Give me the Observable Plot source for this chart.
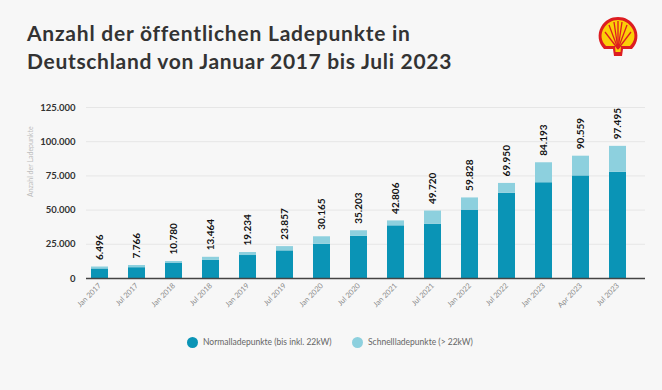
<!DOCTYPE html>
<html><head><meta charset="utf-8">
<script src="https://cdn.jsdelivr.net/npm/d3@7"></script>
<script src="https://cdn.jsdelivr.net/npm/@observablehq/plot@0.6"></script>
<style>
body{margin:0;background:#f7f7f7;}
#wrap{position:relative;width:662px;height:390px;background:#f7f7f7;font-family:Lato,"Open Sans",sans-serif;overflow:hidden;}
#title{position:absolute;left:27px;top:19px;font-size:21px;line-height:28px;font-weight:700;color:#333;white-space:nowrap;}
#title span{display:inline-block;}
#logo{position:absolute;left:597px;top:16px;}
#chart{position:absolute;left:0;top:90px;}
#legend{position:absolute;top:336px;left:0;width:662px;font-size:8.5px;color:#666;}
.sw{position:absolute;width:11px;height:11px;border-radius:50%;}
.lt{position:absolute;top:1px;white-space:nowrap;}
</style></head>
<body><div id="wrap">
<div id="title"><span id="t1">Anzahl der öffentlichen Ladepunkte in</span><br><span id="t2">Deutschland von Januar 2017 bis Juli 2023</span></div>
<svg id="logo" width="42" height="42" viewBox="0 0 40 42">
<path d="M6,33 C0,27 -1,18 3,11 C7,4 13,1 20,1 C27,1 33,4 37,11 C41,18 40,27 34,33 L25,33 L24,40 L16,40 L15,33 Z" fill="#dd1d21"/>
<path d="M8,30 C3,25 2,18 6,12 C9,7 14,4 20,4 C26,4 31,7 34,12 C38,18 37,25 32,30 L23,30 L22.5,36 L17.5,36 L17,30 Z" fill="#fbce07"/>
<g stroke="#dd1d21" stroke-width="1.3" fill="none">
<line x1="20" y1="33" x2="7" y2="16"/><line x1="20" y1="33" x2="11" y2="9"/><line x1="20" y1="33" x2="16" y2="6"/>
<line x1="20" y1="33" x2="20" y2="5"/><line x1="20" y1="33" x2="24" y2="6"/><line x1="20" y1="33" x2="29" y2="9"/><line x1="20" y1="33" x2="33" y2="16"/>
</g>
</svg>
<div id="chart"></div>
<div id="legend">
<span class="sw" style="left:187px;top:1px;background:#0a94b6"></span><span class="lt" style="left:203px">Normalladepunkte (bis inkl. 22kW)</span>
<span class="sw" style="left:352px;top:1px;background:#8dd0de"></span><span class="lt" style="left:368px">Schnellladepunkte (&gt; 22kW)</span>
</div>
</div>
<script>
const periods = ["Jan 2017","Jul 2017","Jan 2018","Jul 2018","Jan 2019","Jul 2019","Jan 2020","Jul 2020","Jan 2021","Jul 2021","Jan 2022","Jul 2022","Jan 2023","Apr 2023","Jul 2023"];
const normal = [7000, 7900, 11300, 13200, 16800, 20200, 25000, 30800, 38500, 39700, 50000, 62300, 70000, 75000, 77600];
const fast   = [1400, 1600, 1100, 2300, 2200, 3100, 5500, 4100, 3600, 9600, 8900, 7200, 14600, 14400, 19000];
const totals = [6496, 7766, 10780, 13464, 19234, 23857, 30165, 35203, 42806, 49720, 59828, 69950, 84193, 90559, 97495];
const yTicks = [0, 25000, 50000, 75000, 100000, 125000];
const seriesNames = ["Normalladepunkte (bis inkl. 22kW)", "Schnellladepunkte (> 22kW)"];
const colors = ["#0a94b6", "#8dd0de"];

// fit the two title lines to the widths measured in the reference
[["t1", 383], ["t2", 425]].forEach(([id, target]) => {
  const el = document.getElementById(id);
  const w = el.getBoundingClientRect().width;
  const n = el.textContent.length;
  el.style.letterSpacing = Math.max(-0.5, Math.min(2, (target - w) / n)) + "px";
});

const de = d3.formatLocale({decimal: ",", thousands: ".", grouping: [3], currency: ["", "€"]});
const fmt = de.format(",d");

const rows = [];
periods.forEach((p, i) => {
  rows.push({period: p, series: seriesNames[0], value: normal[i]});
  rows.push({period: p, series: seriesNames[1], value: fast[i]});
});
const tops = periods.map((p, i) => ({period: p, top: normal[i] + fast[i], label: fmt(totals[i])}));

const chart = Plot.plot({
  width: 662, height: 220,
  marginLeft: 86, marginRight: 17, marginTop: 17, marginBottom: 32,
  style: {background: "transparent", fontFamily: "Lato, 'Open Sans', sans-serif"},
  x: {domain: periods, range: [86, 631], paddingInner: 0.55, paddingOuter: 0, label: null},
  y: {domain: [0, 125000], label: null},
  color: {domain: seriesNames, range: colors},
  marks: [
    Plot.gridY(yTicks, {stroke: "#e6e6e6", strokeOpacity: 1, strokeWidth: 1}),
    Plot.axisY(yTicks, {tickSize: 0, tickPadding: 11, tickFormat: fmt, fontSize: 9.5, fontWeight: 700, fill: "#333", label: null}),
    Plot.axisX({tickSize: 0, tickRotate: -45, tickPadding: 6, fontSize: 7.5, fill: "#8a8a8a", label: null}),
    Plot.barY(rows, {x: "period", y: "value", fill: "series", order: seriesNames}),
    Plot.ruleY([0], {stroke: "#444", strokeWidth: 1.5}),
    Plot.text(tops, {x: "period", y: "top", text: "label", rotate: -90, textAnchor: "start", dy: -7, fontSize: 10, fontWeight: 700, fill: "#111"}),
    Plot.text(["Anzahl der Ladepunkte"], {frameAnchor: "left", rotate: -90, dx: -56, dy: 4, fontSize: 7, fill: "#bdbdbd"})
  ]
});
document.getElementById("chart").appendChild(chart);
</script>
</body></html>
